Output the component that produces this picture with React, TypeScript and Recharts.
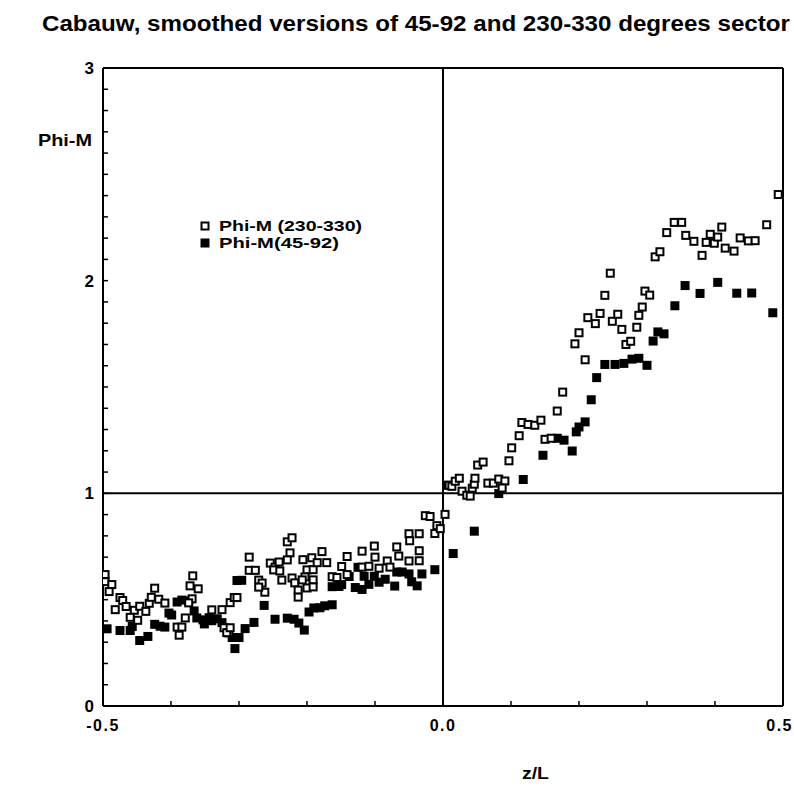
import React from 'react';
import { ScatterChart, Scatter, XAxis, YAxis, ReferenceLine } from 'recharts';

const titleText = 'Cabauw, smoothed versions of 45-92 and 230-330 degrees sector';
const yAxisTitle = 'Phi-M';
const xAxisTitle = 'z/L';
const seriesNames = ['Phi-M (230-330)', 'Phi-M(45-92)'];

const xTicks = [-0.5, -0.4, -0.3, -0.2, -0.1, 0, 0.1, 0.2, 0.3, 0.4, 0.5];
const xMajor = [-0.5, 0, 0.5];
const yTicks = [0, 0.1, 0.2, 0.3, 0.4, 0.5, 0.6, 0.7, 0.8, 0.9, 1, 1.1, 1.2, 1.3, 1.4, 1.5, 1.6, 1.7, 1.8, 1.9, 2, 2.1, 2.2, 2.3, 2.4, 2.5, 2.6, 2.7, 2.8, 2.9, 3];
const yMajor = [0, 1, 2, 3];

// Phi-M (230-330) : open squares
const phiM230 = [
  { x: -0.497, y: 0.618 }, { x: -0.497, y: 0.585 }, { x: -0.487, y: 0.571 }, { x: -0.491, y: 0.538 },
  { x: -0.475, y: 0.51 }, { x: -0.471, y: 0.496 }, { x: -0.482, y: 0.453 }, { x: -0.466, y: 0.468 },
  { x: -0.454, y: 0.45 }, { x: -0.446, y: 0.469 }, { x: -0.46, y: 0.417 }, { x: -0.449, y: 0.403 },
  { x: -0.437, y: 0.445 }, { x: -0.432, y: 0.483 }, { x: -0.429, y: 0.511 }, { x: -0.424, y: 0.554 },
  { x: -0.418, y: 0.502 }, { x: -0.409, y: 0.484 }, { x: -0.368, y: 0.612 }, { x: -0.372, y: 0.565 },
  { x: -0.36, y: 0.551 }, { x: -0.369, y: 0.504 }, { x: -0.379, y: 0.414 }, { x: -0.391, y: 0.371 },
  { x: -0.384, y: 0.371 }, { x: -0.388, y: 0.333 }, { x: -0.374, y: 0.485 }, { x: -0.34, y: 0.452 },
  { x: -0.325, y: 0.453 }, { x: -0.322, y: 0.368 }, { x: -0.315, y: 0.344 }, { x: -0.285, y: 0.7 },
  { x: -0.285, y: 0.638 }, { x: -0.276, y: 0.638 }, { x: -0.254, y: 0.672 }, { x: -0.247, y: 0.653 },
  { x: -0.271, y: 0.592 }, { x: -0.266, y: 0.578 }, { x: -0.262, y: 0.535 }, { x: -0.271, y: 0.559 },
  { x: -0.313, y: 0.486 }, { x: -0.307, y: 0.51 }, { x: -0.303, y: 0.51 }, { x: -0.318, y: 0.345 },
  { x: -0.313, y: 0.368 }, { x: -0.229, y: 0.772 }, { x: -0.222, y: 0.791 }, { x: -0.225, y: 0.72 },
  { x: -0.229, y: 0.687 }, { x: -0.241, y: 0.677 }, { x: -0.249, y: 0.64 }, { x: -0.24, y: 0.635 },
  { x: -0.237, y: 0.592 }, { x: -0.222, y: 0.602 }, { x: -0.218, y: 0.579 }, { x: -0.206, y: 0.688 },
  { x: -0.2, y: 0.64 }, { x: -0.203, y: 0.607 }, { x: -0.207, y: 0.593 }, { x: -0.193, y: 0.697 },
  { x: -0.191, y: 0.641 }, { x: -0.185, y: 0.674 }, { x: -0.178, y: 0.726 }, { x: -0.171, y: 0.674 },
  { x: -0.191, y: 0.593 }, { x: -0.213, y: 0.545 }, { x: -0.213, y: 0.512 }, { x: -0.2, y: 0.555 },
  { x: -0.191, y: 0.56 }, { x: -0.119, y: 0.728 }, { x: -0.101, y: 0.752 }, { x: -0.1, y: 0.7 },
  { x: -0.082, y: 0.682 }, { x: -0.068, y: 0.748 }, { x: -0.065, y: 0.705 }, { x: -0.05, y: 0.81 },
  { x: -0.049, y: 0.777 }, { x: -0.035, y: 0.81 }, { x: -0.035, y: 0.73 }, { x: -0.026, y: 0.895 },
  { x: -0.019, y: 0.891 }, { x: -0.009, y: 0.848 }, { x: -0.012, y: 0.811 }, { x: -0.004, y: 0.834 },
  { x: -0.035, y: 0.683 }, { x: -0.05, y: 0.682 }, { x: -0.119, y: 0.653 }, { x: -0.109, y: 0.657 },
  { x: -0.094, y: 0.648 }, { x: -0.078, y: 0.653 }, { x: -0.163, y: 0.608 }, { x: -0.156, y: 0.604 },
  { x: -0.141, y: 0.618 }, { x: -0.141, y: 0.703 }, { x: -0.149, y: 0.656 },
  { x: 0.003, y: 0.901 }, { x: 0.009, y: 1.038 }, { x: 0.013, y: 1.033 }, { x: 0.018, y: 1.057 },
  { x: 0.024, y: 1.071 }, { x: 0.028, y: 1.01 }, { x: 0.035, y: 0.991 }, { x: 0.04, y: 0.987 },
  { x: 0.043, y: 1.024 }, { x: 0.046, y: 1.043 }, { x: 0.047, y: 1.071 }, { x: 0.051, y: 1.133 },
  { x: 0.059, y: 1.147 }, { x: 0.066, y: 1.048 }, { x: 0.074, y: 1.048 }, { x: 0.082, y: 1.067 },
  { x: 0.091, y: 1.058 }, { x: 0.087, y: 1.025 }, { x: 0.097, y: 1.153 }, { x: 0.101, y: 1.214 },
  { x: 0.112, y: 1.271 }, { x: 0.116, y: 1.333 }, { x: 0.125, y: 1.324 }, { x: 0.135, y: 1.32 },
  { x: 0.144, y: 1.344 }, { x: 0.15, y: 1.254 }, { x: 0.159, y: 1.259 }, { x: 0.168, y: 1.387 },
  { x: 0.176, y: 1.476 }, { x: 0.194, y: 1.703 }, { x: 0.2, y: 1.755 }, { x: 0.209, y: 1.628 },
  { x: 0.213, y: 1.826 }, { x: 0.224, y: 1.798 }, { x: 0.231, y: 1.846 }, { x: 0.238, y: 1.931 },
  { x: 0.246, y: 2.035 }, { x: 0.249, y: 1.809 }, { x: 0.257, y: 1.842 }, { x: 0.263, y: 1.771 },
  { x: 0.269, y: 1.7 }, { x: 0.276, y: 1.715 }, { x: 0.285, y: 1.781 }, { x: 0.288, y: 1.837 },
  { x: 0.293, y: 1.876 }, { x: 0.297, y: 1.951 }, { x: 0.304, y: 1.932 }, { x: 0.312, y: 2.112 },
  { x: 0.319, y: 2.136 }, { x: 0.329, y: 2.226 }, { x: 0.34, y: 2.274 }, { x: 0.351, y: 2.274 },
  { x: 0.357, y: 2.213 }, { x: 0.369, y: 2.185 }, { x: 0.381, y: 2.119 }, { x: 0.387, y: 2.18 },
  { x: 0.393, y: 2.218 }, { x: 0.399, y: 2.176 }, { x: 0.404, y: 2.205 }, { x: 0.41, y: 2.252 },
  { x: 0.415, y: 2.153 }, { x: 0.428, y: 2.139 }, { x: 0.437, y: 2.201 }, { x: 0.449, y: 2.187 },
  { x: 0.459, y: 2.188 }, { x: 0.476, y: 2.263 }, { x: 0.493, y: 2.405 },
];

// Phi-M(45-92) : filled squares
const phiM45 = [
  { x: -0.494, y: 0.363 }, { x: -0.475, y: 0.355 }, { x: -0.46, y: 0.355 }, { x: -0.457, y: 0.374 },
  { x: -0.446, y: 0.308 }, { x: -0.434, y: 0.327 }, { x: -0.424, y: 0.384 }, { x: -0.416, y: 0.375 },
  { x: -0.409, y: 0.371 }, { x: -0.403, y: 0.437 }, { x: -0.399, y: 0.428 }, { x: -0.391, y: 0.489 },
  { x: -0.384, y: 0.498 }, { x: -0.374, y: 0.494 }, { x: -0.366, y: 0.447 }, { x: -0.362, y: 0.414 },
  { x: -0.353, y: 0.405 }, { x: -0.344, y: 0.415 }, { x: -0.34, y: 0.401 }, { x: -0.332, y: 0.41 },
  { x: -0.325, y: 0.392 }, { x: -0.351, y: 0.386 }, { x: -0.303, y: 0.59 }, { x: -0.296, y: 0.591 },
  { x: -0.31, y: 0.322 }, { x: -0.306, y: 0.27 }, { x: -0.3, y: 0.322 }, { x: -0.291, y: 0.364 },
  { x: -0.278, y: 0.393 }, { x: -0.263, y: 0.473 }, { x: -0.247, y: 0.408 }, { x: -0.229, y: 0.413 },
  { x: -0.219, y: 0.408 }, { x: -0.212, y: 0.39 }, { x: -0.204, y: 0.357 }, { x: -0.197, y: 0.442 },
  { x: -0.19, y: 0.461 }, { x: -0.181, y: 0.462 }, { x: -0.174, y: 0.471 }, { x: -0.163, y: 0.476 },
  { x: -0.163, y: 0.561 }, { x: -0.153, y: 0.562 }, { x: -0.149, y: 0.571 }, { x: -0.138, y: 0.609 },
  { x: -0.129, y: 0.557 }, { x: -0.119, y: 0.548 }, { x: -0.109, y: 0.572 }, { x: -0.094, y: 0.582 },
  { x: -0.085, y: 0.596 }, { x: -0.071, y: 0.564 }, { x: -0.06, y: 0.63 }, { x: -0.046, y: 0.584 },
  { x: -0.038, y: 0.565 }, { x: -0.031, y: 0.621 }, { x: -0.012, y: 0.641 }, { x: -0.125, y: 0.652 },
  { x: -0.116, y: 0.61 }, { x: -0.101, y: 0.61 }, { x: -0.068, y: 0.63 }, { x: -0.05, y: 0.621 },
  { x: 0.006, y: 1.038 }, { x: 0.015, y: 0.717 }, { x: 0.046, y: 0.822 }, { x: 0.082, y: 0.999 },
  { x: 0.118, y: 1.065 }, { x: 0.147, y: 1.179 }, { x: 0.168, y: 1.259 }, { x: 0.178, y: 1.25 },
  { x: 0.19, y: 1.199 }, { x: 0.196, y: 1.289 }, { x: 0.2, y: 1.312 }, { x: 0.209, y: 1.336 },
  { x: 0.218, y: 1.44 }, { x: 0.226, y: 1.544 }, { x: 0.238, y: 1.606 }, { x: 0.253, y: 1.606 },
  { x: 0.266, y: 1.611 }, { x: 0.278, y: 1.631 }, { x: 0.288, y: 1.635 }, { x: 0.3, y: 1.602 },
  { x: 0.309, y: 1.716 }, { x: 0.316, y: 1.759 }, { x: 0.325, y: 1.75 }, { x: 0.341, y: 1.882 },
  { x: 0.356, y: 1.977 }, { x: 0.378, y: 1.94 }, { x: 0.404, y: 1.992 }, { x: 0.432, y: 1.941 },
  { x: 0.454, y: 1.942 }, { x: 0.485, y: 1.849 },
];

const FONT = '"Liberation Sans Narrow", "Liberation Sans", Arial, sans-serif';
const TICK_LEN = 5;

const OpenSquare = (props: any) => {
  const { cx, cy } = props;
  if (cx == null || cy == null) return null;
  return <rect x={cx - 3.5} y={cy - 3.5} width={7} height={7} fill="#fff" stroke="#000" strokeWidth={2} />;
};
const FilledSquare = (props: any) => {
  const { cx, cy } = props;
  if (cx == null || cy == null) return null;
  return <rect x={cx - 4.5} y={cy - 4.5} width={9} height={9} fill="#000" />;
};

const BottomTick = (props: any) => {
  const { x, y, payload } = props;
  const v = payload.value;
  const major = xMajor.includes(v);
  const isLast = v === xMajor[xMajor.length - 1];
  return (
    <g>
      <line x1={x} x2={x} y1={y} y2={y - TICK_LEN} stroke="#000" strokeWidth={1.5} />
      {major && (
        <text
          x={isLast ? x + 10 : x}
          y={y + 25}
          textAnchor={isLast ? 'end' : 'middle'}
          fontFamily={FONT}
          fontWeight="bold"
          fontSize={16}
          letterSpacing={1.5}
          fill="#000"
        >
          {v.toFixed(1)}
        </text>
      )}
    </g>
  );
};
const TopTick = (props: any) => {
  const { x, y } = props;
  return <line x1={x} x2={x} y1={y} y2={y + TICK_LEN} stroke="#000" strokeWidth={1.5} />;
};
const LeftTick = (props: any) => {
  const { x, y, payload } = props;
  const v = payload.value;
  const major = yMajor.includes(v);
  return (
    <g>
      <line x1={x} x2={x + TICK_LEN} y1={y} y2={y} stroke="#000" strokeWidth={1.5} />
      {major && (
        <text x={x - 9} y={y + 6} textAnchor="end" fontFamily={FONT} fontWeight="bold" fontSize={17} fill="#000">
          {String(v)}
        </text>
      )}
    </g>
  );
};
const RightTick = (props: any) => {
  const { x, y } = props;
  return <line x1={x} x2={x - TICK_LEN} y1={y} y2={y} stroke="#000" strokeWidth={1.5} />;
};

export default function App() {
  return (
    <div style={{ position: 'absolute', left: 0, top: 0, width: 794, height: 791, background: '#fff' }}>
      <div style={{ position: 'absolute', left: 0, top: 0 }}>
        <ScatterChart width={794} height={791} margin={{ top: 67, right: 10, bottom: 84, left: 102 }}>
          <XAxis
            xAxisId="b"
            dataKey="x"
            type="number"
            domain={[-0.5, 0.5]}
            ticks={xTicks}
            interval={0}
            allowDataOverflow
            orientation="bottom"
            height={1}
            tickSize={0}
            tickMargin={0}
            tick={<BottomTick />}
            axisLine={{ stroke: '#000', strokeWidth: 2 }}
          />
          <XAxis
            xAxisId="t"
            type="number"
            domain={[-0.5, 0.5]}
            ticks={xTicks}
            interval={0}
            orientation="top"
            height={1}
            tickSize={0}
            tickMargin={0}
            tick={<TopTick />}
            axisLine={{ stroke: '#000', strokeWidth: 2 }}
          />
          <YAxis
            yAxisId="l"
            dataKey="y"
            type="number"
            domain={[0, 3]}
            ticks={yTicks}
            interval={0}
            allowDataOverflow
            orientation="left"
            width={1}
            tickSize={0}
            tickMargin={0}
            tick={<LeftTick />}
            axisLine={{ stroke: '#000', strokeWidth: 2 }}
          />
          <YAxis
            yAxisId="r"
            type="number"
            domain={[0, 3]}
            ticks={yTicks}
            interval={0}
            orientation="right"
            width={1}
            tickSize={0}
            tickMargin={0}
            tick={<RightTick />}
            axisLine={{ stroke: '#000', strokeWidth: 2 }}
          />
          <ReferenceLine xAxisId="b" yAxisId="l" x={0} stroke="#000" strokeWidth={2} />
          <ReferenceLine xAxisId="b" yAxisId="l" y={1} stroke="#000" strokeWidth={2} />
          <Scatter
            name={seriesNames[1]}
            data={phiM45}
            xAxisId="b"
            yAxisId="l"
            shape={<FilledSquare />}
            isAnimationActive={false}
          />
          <Scatter
            name={seriesNames[0]}
            data={phiM230}
            xAxisId="b"
            yAxisId="l"
            shape={<OpenSquare />}
            isAnimationActive={false}
          />
        </ScatterChart>
      </div>
      <svg width={794} height={791} style={{ position: 'absolute', left: 0, top: 0, pointerEvents: 'none' }}>
        <text x={42} y={31} fontFamily={FONT} fontWeight="bold" fontSize={22} textLength={748} lengthAdjust="spacingAndGlyphs" fill="#000">
          {titleText}
        </text>
        <text x={38} y={146} fontFamily={FONT} fontWeight="bold" fontSize={17} textLength={54} lengthAdjust="spacingAndGlyphs" fill="#000">
          {yAxisTitle}
        </text>
        <text x={522} y={779} fontFamily={FONT} fontWeight="bold" fontSize={17} textLength={27} lengthAdjust="spacingAndGlyphs" fill="#000">
          {xAxisTitle}
        </text>
        <rect x={201.5} y={222.5} width={7} height={7} fill="#fff" stroke="#000" strokeWidth={2} />
        <text x={219} y={231} fontFamily={FONT} fontWeight="bold" fontSize={14} textLength={143} lengthAdjust="spacingAndGlyphs" fill="#000">
          {seriesNames[0]}
        </text>
        <rect x={200.5} y={238.5} width={9} height={9} fill="#000" />
        <text x={219} y={248} fontFamily={FONT} fontWeight="bold" fontSize={14} textLength={120} lengthAdjust="spacingAndGlyphs" fill="#000">
          {seriesNames[1]}
        </text>
      </svg>
    </div>
  );
}
